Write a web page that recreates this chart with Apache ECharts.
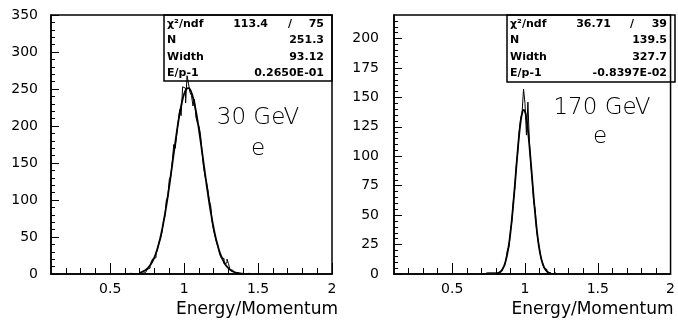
<!DOCTYPE html>
<html>
<head>
<meta charset="utf-8">
<script src="https://cdn.jsdelivr.net/npm/echarts@6/dist/echarts.min.js"></script>
<style>html,body{margin:0;padding:0;background:#fff}#c{width:678px;height:320px}</style>
</head>
<body>
<div id="c"></div>
<script>
// ---- data ----
const xLabelValues = [0.5, 1, 1.5, 2];
const xMinorTicks = [0.2,0.3,0.4,0.6,0.7,0.8,0.9,1.1,1.2,1.3,1.4,1.6,1.7,1.8,1.9];
const leftYMajor = [0,50,100,150,200,250,300,350];
const leftYMinor = [10,20,30,40,60,70,80,90,110,120,130,140,160,170,180,190,210,220,230,240,260,270,280,290,310,320,330,340];
const rightYMajor = [0,25,50,75,100,125,150,175,200];
const rightYMinor = [5,10,15,20,30,35,40,45,55,60,65,70,80,85,90,95,105,110,115,120,130,135,140,145,155,160,165,170,180,185,190,195,205,210,215];

const binWidth = 0.01;
const leftBinStart = 0.60;
const leftCounts = [0,0,0,1,0,0,1,0,1,0, 2,1,3,2,4,6,8,11,18,21, 22,27,33,43,47,56,71,78,100,104, 128,132,152,175,170,188,206,222,214,253, 251,231,268,257,245,241,227,236,212,204, 200,190,168,147,133,126,115,100,92,70, 58,50,42,37,27,22,21,14,15,20, 14,6,5,3,2,2,1,0,1,0, 1,0,0,1,0];
const leftFitStart = 0.70;
const leftFit = [1.7,2.4,3.2,4.2,5.5,7.1,9.2,11.7,14.8,18.6, 23.0,28.3,34.5,41.6,49.7,58.8,69.1,80.3,92.4,105.4, 119.2,133.5,148.2,162.8,177.3,191.3,204.5,216.6,227.2,236.2, 243.2,248.1,250.8,251.2,249.2,244.9,238.5,230.1,219.9,208.3, 195.4,181.6,167.2,152.6,137.9,123.5,109.6,96.3,83.9,72.3, 61.8,52.3,43.9,36.5,30.0,24.5,19.8,15.9,12.6,9.9, 7.7,5.9,4.5,3.4,2.6,1.9,1.4,1.0,0.7,0.5,0.35];

const rightBinStart = 0.70;
const rightCounts = [0,0,0,1,0,1,0,1,0,1, 0,1,1,2,3,5,7,13,21,23, 36,45,62,73,92,103,121,132,137,157, 145,118,146,112,93,79,61,55,37,28, 21,13,10,5,4,2,1,1,0,0, 1,0];
const rightFitStart = 0.80;
const rightFit = [0.3,0.6,1.1,1.9,3.2,5.2,8.1,12.3,18.1,25.6, 35.2,46.8,60.2,74.8,90.1,105.0,118.4,129.2,136.4,139.4, 137.9,132.0,122.2,109.5,95.0,79.7,64.7,50.9,38.7,28.5, 20.3,14.0,9.3,6.0,3.8,2.3,1.3,0.75,0.4];

const leftStats = [['χ²/ndf','113.4','75'],['N','','251.3'],['Width','','93.12'],['E/p-1','','0.2650E-01']];
const rightStats = [['χ²/ndf','36.71','39'],['N','','139.5'],['Width','','327.7'],['E/p-1','','-0.8397E-02']];
const leftTitle = ['30 GeV','e'];
const rightTitle = ['170 GeV','e'];
const xTitle = 'Energy/Momentum';

// ---- build ----
function histData(start, counts){
  const d = counts.map((c,i)=>[+(start + i*binWidth).toFixed(4), c]);
  d.push([+(start + counts.length*binWidth).toFixed(4), 0]);
  return d;
}
function fitData(start, vals){
  return vals.map((v,i)=>[+(start + i*binWidth).toFixed(4), v]);
}
const FONT = 'DejaVu Sans';
const grids = [
  {left:51, top:15, width:281, height:259, show:true, borderColor:'#000', borderWidth:1.5, backgroundColor:'transparent'},
  {left:394, top:15, width:281, height:259, show:true, borderColor:'#000', borderWidth:1.5, backgroundColor:'transparent'}
];
function xAxes(gi, nameGap){
  return [
    {type:'value', gridIndex:gi, min:0.1, max:2, position:'bottom',
     axisLine:{show:true, onZero:false, lineStyle:{color:'#000', width:1.5}},
     axisTick:{show:true, inside:true, length:11, customValues:xLabelValues, lineStyle:{color:'#000', width:1}},
     axisLabel:{show:true, customValues:xLabelValues, margin:8, color:'#000', fontFamily:FONT, fontSize:14},
     splitLine:{show:false},
     name:xTitle, nameLocation:'end', nameGap:nameGap,
     nameTextStyle:{align:'right', verticalAlign:'top', padding:[27,0,0,0], color:'#000', fontFamily:FONT, fontSize:17}},
    {type:'value', gridIndex:gi, min:0.1, max:2, position:'bottom',
     axisLine:{show:false, onZero:false},
     axisTick:{show:true, inside:true, length:6, customValues:xMinorTicks, lineStyle:{color:'#000', width:1}},
     axisLabel:{show:false}, splitLine:{show:false}}
  ];
}
function yAxes(gi, max, major, minor, margin){
  return [
    {type:'value', gridIndex:gi, min:0, max:max, position:'left',
     axisLine:{show:true, onZero:false, lineStyle:{color:'#000', width:1.5}},
     axisTick:{show:true, inside:true, length:8, customValues:major, lineStyle:{color:'#000', width:1}},
     axisLabel:{show:true, customValues:major, margin:margin, color:'#000', fontFamily:FONT, fontSize:14},
     splitLine:{show:false}},
    {type:'value', gridIndex:gi, min:0, max:max, position:'left',
     axisLine:{show:false, onZero:false},
     axisTick:{show:true, inside:true, length:4, customValues:minor, lineStyle:{color:'#000', width:1}},
     axisLabel:{show:false}, splitLine:{show:false}}
  ];
}
function statsGraphic(bx, by, bw, bh, stats, midRight, slashX){
  const els = [{type:'rect', shape:{x:bx, y:by, width:bw, height:bh}, style:{fill:'none', stroke:'#000', lineWidth:1.5}, z:10}];
  const rows = [24, 40.5, 57, 73];
  const st = (t, x, y, align)=>({type:'text', x:x, y:y, z:11, style:{text:t, fill:'#000', fontFamily:FONT, fontWeight:'bold', fontSize:11, align:align, verticalAlign:'middle'}});
  stats.forEach((r,i)=>{
    els.push(st(r[0], bx+3, rows[i], 'left'));
    if (r[1]) { els.push(st(r[1], midRight, rows[i], 'right')); els.push(st('/', slashX, rows[i], 'center')); }
    els.push(st(r[2], bx+bw-8, rows[i], 'right'));
  });
  return els;
}
const bigText = (t, x, y)=>({type:'text', x:x, y:y, z:11, style:{text:t, fill:'#000', fontFamily:FONT, fontWeight:200, fontSize:23, align:'center', verticalAlign:'middle'}});

const chart = echarts.init(document.getElementById('c'), null, {renderer:'canvas'});
chart.setOption({
  animation:false,
  backgroundColor:'#fff',
  grid: grids,
  xAxis: [...xAxes(0, 6), ...xAxes(1, 3)],
  yAxis: [...yAxes(0, 350, leftYMajor, leftYMinor, 13), ...yAxes(1, 220, rightYMajor, rightYMinor, 15)],
  series: [
    {type:'line', step:'end', xAxisIndex:0, yAxisIndex:0, data:histData(leftBinStart, leftCounts), showSymbol:false, symbol:'none', lineStyle:{color:'#000', width:1}},
    {type:'line', smooth:true, xAxisIndex:0, yAxisIndex:0, data:fitData(leftFitStart, leftFit), showSymbol:false, symbol:'none', lineStyle:{color:'#000', width:1.8}},
    {type:'line', step:'end', xAxisIndex:2, yAxisIndex:2, data:histData(rightBinStart, rightCounts), showSymbol:false, symbol:'none', lineStyle:{color:'#000', width:1}},
    {type:'line', smooth:true, xAxisIndex:2, yAxisIndex:2, data:fitData(rightFitStart, rightFit), showSymbol:false, symbol:'none', lineStyle:{color:'#000', width:1.8}}
  ],
  graphic: [
    ...statsGraphic(164, 15, 168, 66, leftStats, 268, 290),
    ...statsGraphic(507, 15, 168, 67, rightStats, 611, 632),
    bigText(leftTitle[0], 258, 118), bigText(leftTitle[1], 258, 149),
    bigText(rightTitle[0], 602, 108), bigText(rightTitle[1], 600, 137)
  ]
});
</script>
</body>
</html>
